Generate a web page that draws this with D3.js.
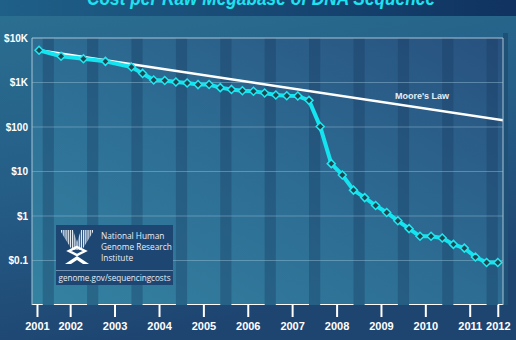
<!DOCTYPE html>
<html>
<head>
<meta charset="utf-8">
<script src="https://cdn.jsdelivr.net/npm/d3@7"></script>
<style>
  body { margin: 0; background: #1f4670; }
  svg { display: block; }
  text { font-family: "Liberation Sans", Arial, sans-serif; }
</style>
</head>
<body>
<div class="chart"></div>
<script>
// cost per raw megabase (USD), NHGRI
var months = ["2001-09","2002-03","2002-09","2003-03","2003-10","2004-01","2004-04","2004-07","2004-10",
  "2005-01","2005-04","2005-07","2005-10","2006-01","2006-04","2006-07","2006-10",
  "2007-01","2007-04","2007-07","2007-10","2008-01","2008-04","2008-07","2008-10",
  "2009-01","2009-04","2009-07","2009-10","2010-01","2010-04","2010-07","2010-10",
  "2011-01","2011-04","2011-07","2011-10","2012-01"];
var costs = [5292.39, 3898.64, 3413.80, 2986.20, 2230.98, 1598.91, 1135.70, 1107.46, 1028.85,
  974.16, 897.76, 898.90, 766.73, 699.20, 651.81, 636.41, 581.92,
  522.71, 502.61, 495.96, 397.09, 102.13, 15.03, 8.36, 3.81,
  2.59, 1.72, 1.20, 0.78, 0.52, 0.35, 0.35, 0.32,
  0.23, 0.19, 0.12, 0.09, 0.09];

// Moore's law reference line
var mooreMonths = ["2001-09-01", "2012-02-15"];
var mooreCosts = [5292.39, 142];

var yTicks = [10000, 1000, 100, 10, 1, 0.1];
var yLabels = ["$10K", "$1K", "$100", "$10", "$1", "$0.1"];
var years = [2001, 2002, 2003, 2004, 2005, 2006, 2007, 2008, 2009, 2010, 2011, 2012];
var yearTickDates = ["2001-08-15","2002-05-15","2003-05-15","2004-05-15","2005-05-15","2006-05-15",
  "2007-05-15","2008-05-15","2009-05-15","2010-05-15","2011-05-15","2012-01-01"];

var W = 516, H = 340;
var margin = {top: 38, right: 13, bottom: 35, left: 32},
    width = W - margin.left - margin.right,
    height = H - margin.top - margin.bottom;

var parseMonth = d3.timeParse("%Y-%m");
var parseDay = d3.timeParse("%Y-%m-%d");

var data = months.map(function(m, i) { return {date: parseMonth(m), cost: costs[i]}; });
var moore = mooreMonths.map(function(m, i) { return {date: parseDay(m), cost: mooreCosts[i]}; });

var x = d3.scaleTime()
    .domain([parseDay("2001-07-05"), parseDay("2012-02-13")])
    .range([0, width]);
var y = d3.scaleLog().domain([0.01, 10000]).range([height, 0]);

var svg = d3.select(".chart").append("svg")
    .attr("width", W).attr("height", H);

var defs = svg.append("defs");
var bg = defs.append("linearGradient").attr("id", "bg")
    .attr("x1", 0).attr("y1", 0).attr("x2", 0.3).attr("y2", 1);
bg.append("stop").attr("offset", 0).attr("stop-color", "#2b7091");
bg.append("stop").attr("offset", 0.55).attr("stop-color", "#245c86");
bg.append("stop").attr("offset", 1).attr("stop-color", "#1e4470");

var band = defs.append("linearGradient").attr("id", "band")
    .attr("x1", 0).attr("y1", 0).attr("x2", 1).attr("y2", 0);
band.append("stop").attr("offset", 0).attr("stop-color", "#1f6088");
band.append("stop").attr("offset", 1).attr("stop-color", "#103260");

var plotBg = defs.append("linearGradient").attr("id", "plotBg")
    .attr("x1", 0).attr("y1", 1).attr("x2", 1).attr("y2", 0);
plotBg.append("stop").attr("offset", 0).attr("stop-color", "#3482a2");
plotBg.append("stop").attr("offset", 0.5).attr("stop-color", "#2d6c93");
plotBg.append("stop").attr("offset", 1).attr("stop-color", "#28517f");

defs.append("clipPath").attr("id", "plotClip")
  .append("rect").attr("width", width).attr("height", height);

// page background + title band
svg.append("rect").attr("width", W).attr("height", H).attr("fill", "url(#bg)");
svg.append("rect").attr("width", W).attr("height", 16).attr("fill", "url(#band)");

svg.append("text")
    .attr("x", 261).attr("y", 5)
    .attr("text-anchor", "middle")
    .attr("textLength", 348).attr("lengthAdjust", "spacingAndGlyphs")
    .style("font-size", "20px").style("font-weight", "bold").style("font-style", "italic")
    .style("fill", "#1ee2f0")
    .text("Cost per Raw Megabase of DNA Sequence");

var g = svg.append("g")
    .attr("transform", "translate(" + margin.left + "," + margin.top + ")");

// dark frame to the right of the plot
g.append("rect").attr("x", width).attr("y", -5).attr("width", 5).attr("height", height + 5)
    .attr("fill", "#1f5075");

g.append("rect").attr("width", width).attr("height", height).attr("fill", "url(#plotBg)");

var plot = g.append("g").attr("clip-path", "url(#plotClip)");

// darker stripe at the end of each year (Oct-Dec)
plot.selectAll(".stripe")
    .data(years)
  .enter().append("rect")
    .attr("class", "stripe")
    .attr("x", function(d) { return x(new Date(d, 9, 1)); })
    .attr("width", function(d) { return x(new Date(d + 1, 0, 1)) - x(new Date(d, 9, 1)); })
    .attr("height", height)
    .attr("fill", "#16385f").attr("opacity", 0.35);

// gridlines
plot.selectAll(".grid")
    .data(yTicks.slice(1))
  .enter().append("line")
    .attr("x1", 0).attr("x2", width)
    .attr("y1", function(d) { return y(d); }).attr("y2", function(d) { return y(d); })
    .attr("stroke", "#9cc2d6").attr("stroke-opacity", 0.45).attr("stroke-width", 1);

// plot border (left, top, right)
g.append("path")
    .attr("d", "M0," + height + "V0H" + width + "V" + height)
    .attr("fill", "none").attr("stroke", "#a9c3d3").attr("stroke-width", 1);

// white year bars along the bottom
plot.selectAll(".yearbar")
    .data(years)
  .enter().append("rect")
    .attr("class", "yearbar")
    .attr("x", function(d) { return x(new Date(d, 0, 1)); })
    .attr("y", height - 1)
    .attr("width", function(d) { return x(new Date(d, 9, 1)) - x(new Date(d, 0, 1)); })
    .attr("height", 5)
    .attr("fill", "#ffffff");

// Moore's law
var line = d3.line()
    .x(function(d) { return x(d.date); })
    .y(function(d) { return y(d.cost); });

plot.append("path")
    .datum(moore)
    .attr("d", line)
    .attr("fill", "none").attr("stroke", "#ffffff").attr("stroke-width", 2.5);

g.append("text")
    .attr("x", 390).attr("y", 61)
    .attr("text-anchor", "middle")
    .style("font-size", "9px").style("font-weight", "bold")
    .style("fill", "#e6eef5")
    .text("Moore's Law");

// cost line and markers
plot.append("path")
    .datum(data)
    .attr("d", line)
    .attr("fill", "none").attr("stroke", "#14e3f0").attr("stroke-width", 4)
    .attr("stroke-linejoin", "round");

plot.selectAll(".pt")
    .data(data)
  .enter().append("path")
    .attr("class", "pt")
    .attr("transform", function(d) { return "translate(" + x(d.date) + "," + y(d.cost) + ")"; })
    .attr("d", "M0,-4L4,0L0,4L-4,0Z")
    .attr("fill", "#1f4650").attr("stroke", "#1ee8f2").attr("stroke-width", 1.5);

// axes
var xAxis = g.append("g")
    .attr("transform", "translate(0," + height + ")")
    .call(d3.axisBottom(x)
      .tickValues(yearTickDates.map(function(d) { return parseDay(d); }))
      .tickFormat(function(d, i) { return years[i]; })
      .tickSizeInner(12).tickSizeOuter(0).tickPadding(5));
xAxis.select(".domain").remove();
xAxis.selectAll(".tick line").attr("stroke", "#ffffff").attr("stroke-width", 2);
xAxis.selectAll(".tick text")
    .style("font-size", "11px").style("font-weight", "bold")
    .style("font-family", "Liberation Sans, Arial, sans-serif")
    .attr("fill", "#ffffff");

var yAxis = g.append("g")
    .call(d3.axisLeft(y)
      .tickValues(yTicks)
      .tickFormat(function(d, i) { return yLabels[i]; })
      .tickSize(0).tickPadding(4));
yAxis.select(".domain").remove();
yAxis.selectAll(".tick text")
    .style("font-size", "10px").style("font-weight", "bold")
    .style("font-family", "Liberation Sans, Arial, sans-serif")
    .attr("fill", "#ffffff");

// NHGRI badge
var logo = svg.append("g").attr("transform", "translate(56,225)");
logo.append("rect").attr("width", 117).attr("height", 60).attr("fill", "#1e4673");
logo.append("line").attr("x1", 0).attr("x2", 117).attr("y1", 45.5).attr("y2", 45.5)
    .attr("stroke", "#6f8fb0").attr("stroke-width", 1);

var icon = logo.append("g").attr("transform", "translate(5,5)");
defs.append("clipPath").attr("id", "xTop")
  .append("path").attr("d", "M0,0L12,0L16,12L20,0L32,0L32,2L21,20L11,20L0,2Z");
var stripes = icon.append("g").attr("clip-path", "url(#xTop)");
d3.range(0, 32, 2.2).forEach(function(sx) {
  stripes.append("rect").attr("x", sx).attr("y", 0).attr("width", 1.3).attr("height", 22)
      .attr("fill", "#dfe7ef");
});
icon.append("path").attr("d", "M16,17L24,21L16,25L8,21Z")
    .attr("fill", "none").attr("stroke", "#ffffff").attr("stroke-width", 2.5);
icon.append("path").attr("d", "M4,34L16,26L28,34L22,34L16,30L10,34Z").attr("fill", "#ffffff");

var logoText = ["National Human", "Genome Research", "Institute"];
logo.selectAll(".lt")
    .data(logoText)
  .enter().append("text")
    .attr("x", 45).attr("y", function(d, i) { return 14 + i * 11; })
    .style("font-family", "Open Sans, sans-serif").style("font-size", "8.3px")
    .attr("fill", "#e8eef5")
    .text(function(d) { return d; });
logo.append("text")
    .attr("x", 58.5).attr("y", 56).attr("text-anchor", "middle")
    .attr("textLength", 112).attr("lengthAdjust", "spacingAndGlyphs")
    .style("font-family", "Open Sans, sans-serif").style("font-size", "8.5px")
    .attr("fill", "#e8eef5")
    .text("genome.gov/sequencingcosts");
</script>
</body>
</html>
